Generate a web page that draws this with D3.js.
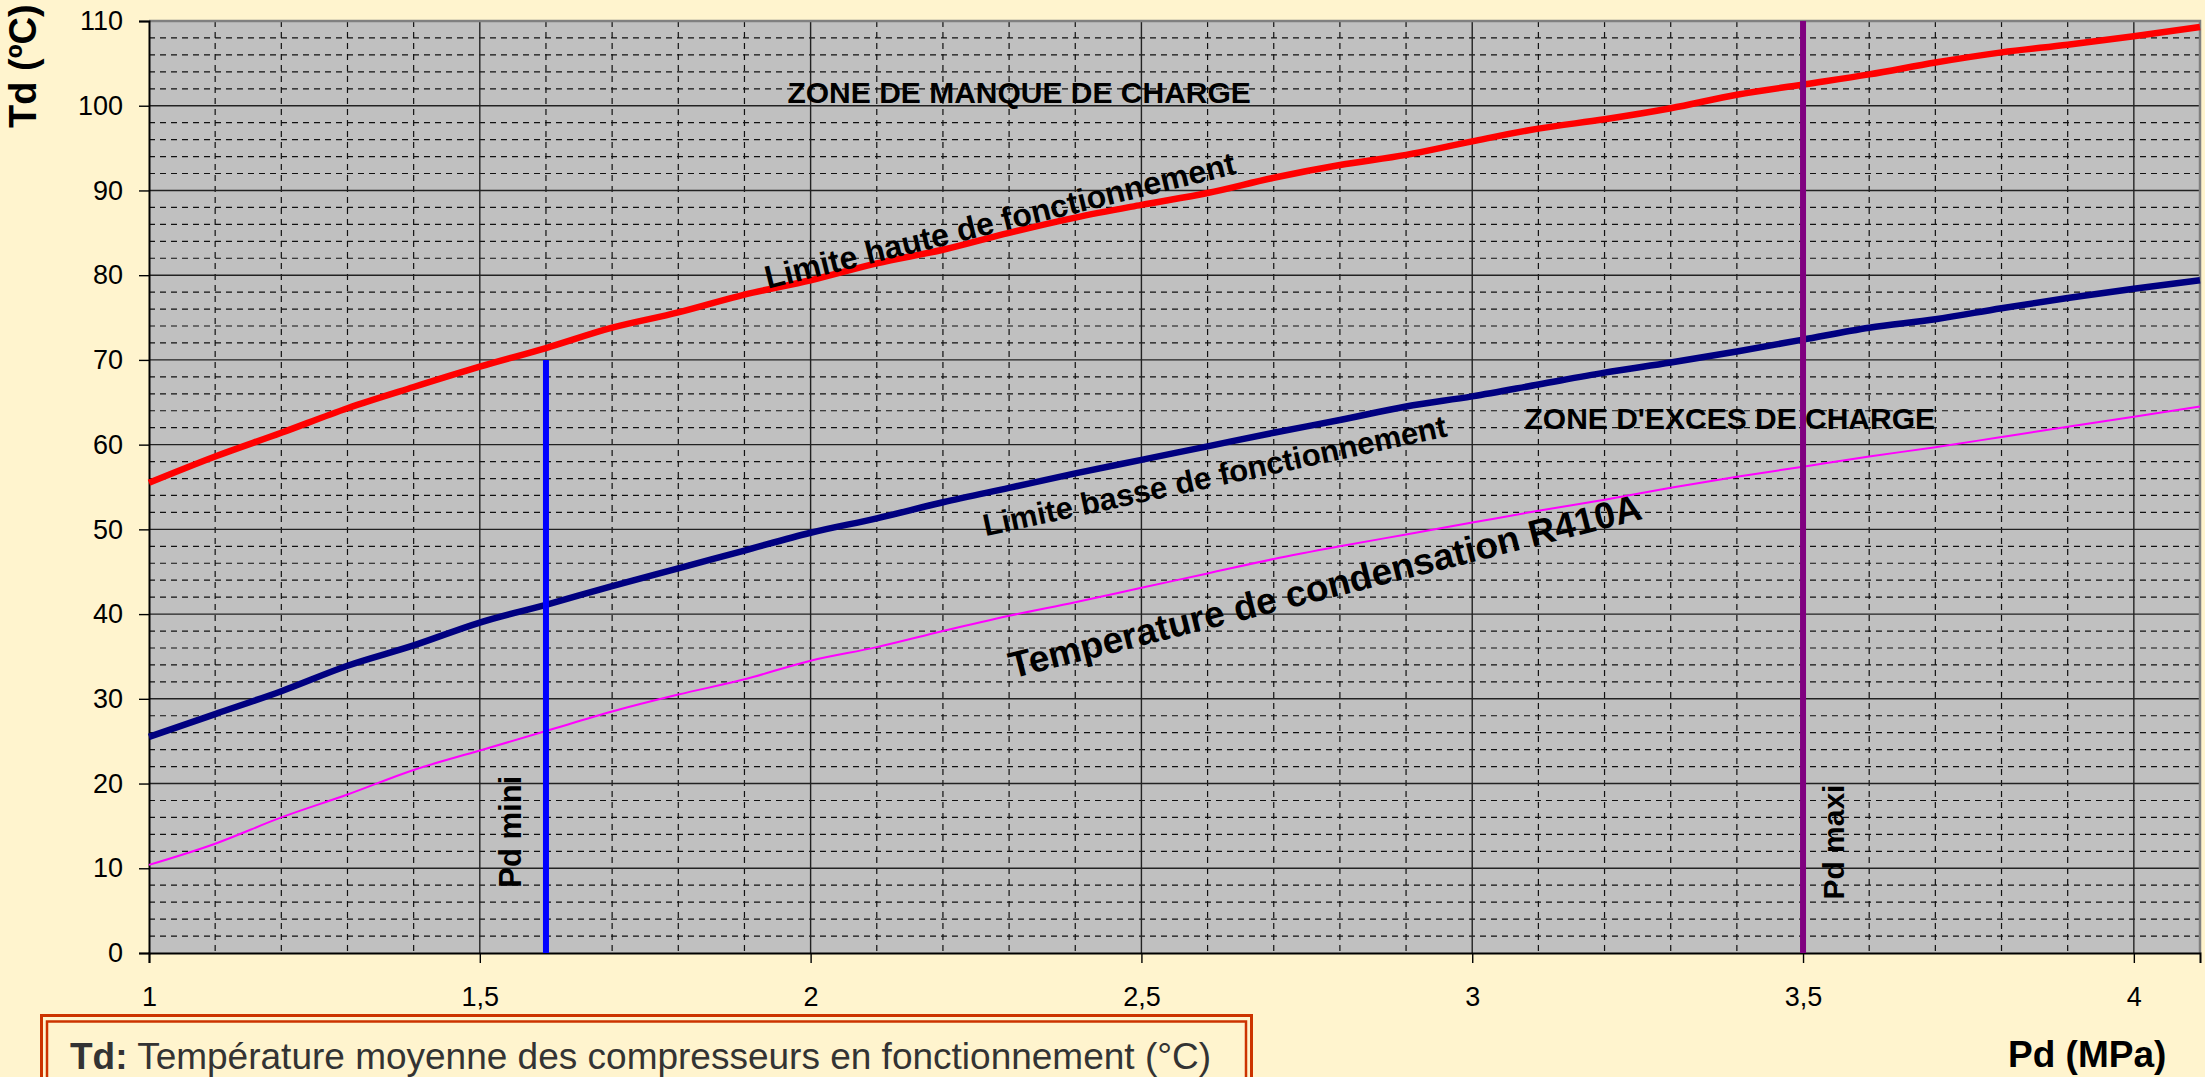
<!DOCTYPE html>
<html>
<head>
<meta charset="utf-8">
<script src="https://cdn.jsdelivr.net/npm/d3@7"></script>
<style>
  body { margin: 0; background: #FFF4CE; }
  svg { display: block; font-family: Arial, "Liberation Sans", sans-serif; }
</style>
</head>
<body>
<script>
// Pd (MPa) sample points and Td (°C)
const pd = [1.0, 1.1, 1.2, 1.3, 1.4, 1.5, 1.6, 1.7, 1.8, 1.9, 2.0, 2.1, 2.2, 2.3, 2.4, 2.5,
    2.6, 2.7, 2.8, 2.9, 3.0, 3.1, 3.2, 3.3, 3.4, 3.5, 3.6, 3.7, 3.8, 3.9, 4.0, 4.1];
const tdHaute = [55.5, 58.6, 61.4, 64.3, 66.8, 69.2, 71.4, 73.8, 75.6, 77.7, 79.4, 81.4, 83.0, 85.0, 86.8, 88.3,
    89.7, 91.5, 93.0, 94.2, 95.8, 97.3, 98.4, 99.7, 101.3, 102.5, 103.7, 105.1, 106.3, 107.2, 108.2, 109.3];
const tdBasse = [25.5, 28.2, 30.9, 33.9, 36.3, 39.0, 41.1, 43.3, 45.4, 47.5, 49.6, 51.3, 53.2, 54.9, 56.6, 58.2,
    59.8, 61.4, 62.9, 64.5, 65.7, 67.1, 68.5, 69.7, 71.0, 72.4, 73.8, 74.8, 76.1, 77.3, 78.4, 79.4];
const tdCond = [10.4, 12.9, 16.0, 18.7, 21.6, 23.9, 26.2, 28.5, 30.5, 32.3, 34.5, 36.1, 38.0, 39.8, 41.4, 43.1,
    44.8, 46.5, 48.0, 49.4, 50.8, 52.2, 53.5, 54.9, 56.2, 57.4, 58.6, 59.7, 60.9, 62.1, 63.3, 64.5];

// vertical limits: [pd, top Td]
const pdMini = [1.6, 70];
const pdMaxi = [3.5, 110];

const xTicks = [1, 1.5, 2, 2.5, 3, 3.5, 4];
const xTickLabels = ["1", "1,5", "2", "2,5", "3", "3,5", "4"];
const yTicks = [0, 10, 20, 30, 40, 50, 60, 70, 80, 90, 100, 110];

const width = 2205,
    height = 1077,
    plotLeft = 149, plotTop = 21, plotRight = 2200, plotBottom = 953;

const x = d3.scaleLinear().domain([1, 4.1]).range([plotLeft, plotRight]);
const y = d3.scaleLinear().domain([0, 110]).range([plotBottom, plotTop]);

let svg = d3.select('body').append('svg')
    .attr('width', width)
    .attr('height', height);

svg.append('rect')
    .attr('width', width).attr('height', height)
    .attr('fill', '#FFF4CE');

// plot area
svg.append('rect')
    .attr('x', plotLeft).attr('y', plotTop)
    .attr('width', plotRight - plotLeft).attr('height', plotBottom - plotTop)
    .attr('fill', '#C0C0C0');

// minor grid
let minorX = d3.range(11, 41).map(d => d / 10).filter(d => Math.round(d * 10) % 5 !== 0);
let minorY = d3.range(2, 110, 2).filter(d => d % 10 !== 0);

let grid = svg.append('g');
grid.selectAll('.mx').data(minorX).enter().append('line')
    .attr('x1', d => x(d)).attr('x2', d => x(d))
    .attr('y1', plotTop).attr('y2', plotBottom)
    .attr('stroke', '#111').attr('stroke-width', 1.2)
    .attr('stroke-dasharray', '6,5');
grid.selectAll('.my').data(minorY).enter().append('line')
    .attr('x1', plotLeft).attr('x2', plotRight)
    .attr('y1', d => y(d)).attr('y2', d => y(d))
    .attr('stroke', '#111').attr('stroke-width', 1.2)
    .attr('stroke-dasharray', '6,5');

// major grid
grid.selectAll('.Mx').data(xTicks.slice(1)).enter().append('line')
    .attr('x1', d => x(d)).attr('x2', d => x(d))
    .attr('y1', plotTop).attr('y2', plotBottom)
    .attr('stroke', '#222').attr('stroke-width', 1.4);
grid.selectAll('.My').data(yTicks.slice(1, -1)).enter().append('line')
    .attr('x1', plotLeft).attr('x2', plotRight)
    .attr('y1', d => y(d)).attr('y2', d => y(d))
    .attr('stroke', '#222').attr('stroke-width', 1.4);

// frame: gray top/right
svg.append('path')
    .attr('d', `M${plotLeft},${plotTop}H${plotRight}V${plotBottom}`)
    .attr('fill', 'none').attr('stroke', '#808080').attr('stroke-width', 2.5);

// axes
let xAxis = d3.axisBottom(x).tickValues(xTicks).tickSize(10).tickPadding(24)
    .tickFormat((d, i) => xTickLabels[i]);
let yAxis = d3.axisLeft(y).tickValues(yTicks).tickSize(10).tickPadding(16);

let gx = svg.append('g').attr('transform', `translate(0,${plotBottom})`).call(xAxis);
let gy = svg.append('g').attr('transform', `translate(${plotLeft},0)`).call(yAxis);
[gx, gy].forEach(g => {
    g.select('.domain').attr('stroke', '#000').attr('stroke-width', 2);
    g.selectAll('.tick line').attr('stroke', '#000').attr('stroke-width', 1.4);
    g.selectAll('.tick text').attr('font-size', 27).attr('fill', '#000')
        .attr('font-family', 'Arial, "Liberation Sans", sans-serif');
});

// curves
let line = d3.line().x((d, i) => x(pd[i])).y(d => y(d)).curve(d3.curveMonotoneX);
svg.append('path').datum(tdCond).attr('d', line)
    .attr('fill', 'none').attr('stroke', '#FF00FF').attr('stroke-width', 2);
svg.append('path').datum(tdBasse).attr('d', line)
    .attr('fill', 'none').attr('stroke', '#000080').attr('stroke-width', 6.5);
svg.append('path').datum(tdHaute).attr('d', line)
    .attr('fill', 'none').attr('stroke', '#FF0000').attr('stroke-width', 6.5);

// Pd mini / Pd maxi
svg.append('line')
    .attr('x1', x(pdMini[0])).attr('x2', x(pdMini[0]))
    .attr('y1', y(0)).attr('y2', y(pdMini[1]))
    .attr('stroke', '#0000FF').attr('stroke-width', 6);
svg.append('line')
    .attr('x1', x(pdMaxi[0])).attr('x2', x(pdMaxi[0]))
    .attr('y1', y(0)).attr('y2', y(pdMaxi[1]))
    .attr('stroke', '#800080').attr('stroke-width', 6);

// annotations
function label(px, py, txt, size, angle, anchor) {
    svg.append('text')
        .attr('transform', `translate(${x(px)},${y(py)}) rotate(${angle})`)
        .attr('text-anchor', anchor)
        .attr('font-size', size)
        .attr('font-weight', 'bold')
        .attr('fill', '#000')
        .text(txt);
}
label(1.965, 100.3, 'ZONE DE MANQUE DE CHARGE', 30, 0, 'start');
label(3.079, 61.9, "ZONE D'EXCES DE CHARGE", 30, 0, 'start');
label(2.645, 92.0, 'Limite haute de fonctionnement', 32, -13.8, 'end');
label(2.964, 61.0, 'Limite basse de fonctionnement', 31, -12.2, 'end');
label(2.305, 32.4, 'Temperature de condensation R410A', 37, -14.2, 'start');
label(1.562, 7.7, 'Pd mini', 31, -90, 'start');
label(3.562, 6.3, 'Pd maxi', 30, -90, 'start');

// axis titles
svg.append('text')
    .attr('transform', 'translate(36,128) rotate(-90)')
    .attr('font-size', 38).attr('font-weight', 'bold')
    .text('Td (ºC)');
svg.append('text')
    .attr('x', 2008).attr('y', 1067)
    .attr('font-size', 37).attr('font-weight', 'bold')
    .text('Pd (MPa)');

// Td legend box
let box = svg.append('g');
box.append('rect')
    .attr('x', 41.5).attr('y', 1015.5).attr('width', 1210).attr('height', 100)
    .attr('fill', 'none').attr('stroke', '#CC3300').attr('stroke-width', 3);
box.append('rect')
    .attr('x', 47).attr('y', 1021.5).attr('width', 1199).attr('height', 100)
    .attr('fill', 'none').attr('stroke', '#CC3300').attr('stroke-width', 2.5);
let note = box.append('text')
    .attr('x', 70).attr('y', 1069)
    .attr('font-size', 37).attr('fill', '#333');
note.append('tspan').attr('font-weight', 'bold').text('Td:');
note.append('tspan').text(' Température moyenne des compresseurs en fonctionnement (°C)');
</script>
</body>
</html>
